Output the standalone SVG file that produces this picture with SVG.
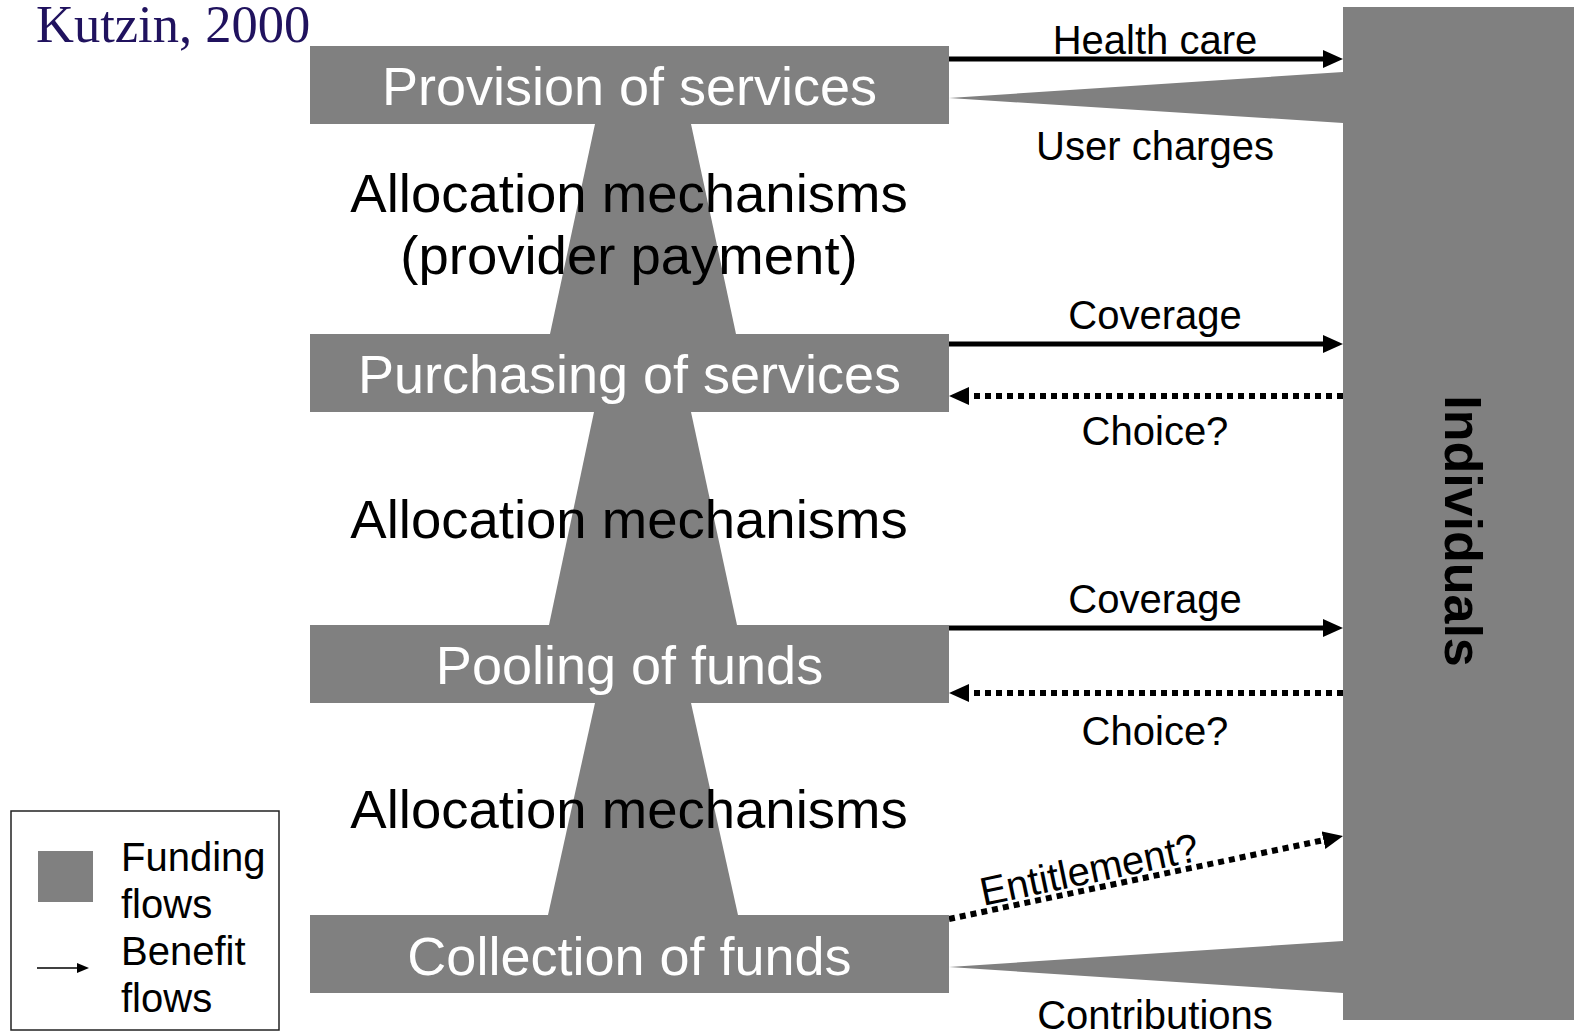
<svg xmlns="http://www.w3.org/2000/svg" width="1574" height="1032" viewBox="0 0 1574 1032">
<style>
.fill{fill:#808080}
.box-label{font-family:"Liberation Sans",Arial,sans-serif;font-size:54px;fill:#ffffff;text-anchor:middle}
.mech{font-family:"Liberation Sans",Arial,sans-serif;font-size:54.5px;fill:#000;text-anchor:middle}
.lbl{font-family:"Liberation Sans",Arial,sans-serif;font-size:40px;fill:#000;text-anchor:middle}
.leg{font-family:"Liberation Sans",Arial,sans-serif;font-size:40px;fill:#000}
.solid{stroke:#000;stroke-width:5;fill:none;marker-end:url(#head)}
.dotted{stroke:#000;stroke-width:6;fill:none;stroke-dasharray:6 5;marker-end:url(#head)}
</style>
<defs>
<marker id="head" markerUnits="userSpaceOnUse" markerWidth="20" markerHeight="18" refX="7" refY="9" orient="auto">
<path d="M0,0 L20,9 L0,18 z" fill="#000"/>
</marker>
<marker id="smallhead" markerUnits="userSpaceOnUse" markerWidth="12" markerHeight="10" refX="4" refY="5" orient="auto">
<path d="M0,0 L12,5 L0,10 z" fill="#000"/>
</marker>
</defs>
<rect width="1574" height="1032" fill="#fff"/>
<text x="36" y="42" font-family="'Liberation Serif','Times New Roman',serif" font-size="52.5" fill="#20125E">Kutzin, 2000</text>

<g id="connectors">
<g id="funding-flows" class="fill">
<polygon points="595,124 691,124 736,334 550,334"/>
<polygon points="594,412 691,412 737,625 549,625"/>
<polygon points="595,703 691,703 738,915 548,915"/>
<polygon points="949,98 1343,72 1343,123"/>
<polygon points="949,967 1343,941 1343,993"/>
</g>
<g id="benefit-flows">
<line class="solid" x1="949" y1="59" x2="1330" y2="59"/>
<line class="solid" x1="949" y1="344" x2="1330" y2="344"/>
<line class="dotted" x1="1343" y1="396" x2="962" y2="396"/>
<line class="solid" x1="949" y1="628" x2="1330" y2="628"/>
<line class="dotted" x1="1343" y1="693" x2="962" y2="693"/>
<line class="dotted" x1="949" y1="919" x2="1330.3" y2="838.7"/>
</g>
<g id="flow-labels">
<text class="lbl" x="1155" y="54">Health care</text>
<text class="lbl" x="1155" y="160">User charges</text>
<text class="lbl" x="1155" y="329">Coverage</text>
<text class="lbl" x="1155" y="445">Choice?</text>
<text class="lbl" x="1155" y="613">Coverage</text>
<text class="lbl" x="1155" y="745">Choice?</text>
<text class="lbl" x="1092" y="883" transform="rotate(-11.9 1092 883)">Entitlement?</text>
<text class="lbl" x="1155" y="1029">Contributions</text>
</g>
</g>

<g id="mechanisms">
<text class="mech" x="629" y="212">Allocation mechanisms</text>
<text class="mech" x="629" y="274">(provider payment)</text>
<text class="mech" x="629" y="538">Allocation mechanisms</text>
<text class="mech" x="629" y="828">Allocation mechanisms</text>
</g>

<g id="provision">
<rect class="fill" x="310" y="46" width="639" height="78"/>
<text class="box-label" x="629.5" y="105">Provision of services</text>
</g>
<g id="purchasing">
<rect class="fill" x="310" y="334" width="639" height="78"/>
<text class="box-label" x="629.5" y="393">Purchasing of services</text>
</g>
<g id="pooling">
<rect class="fill" x="310" y="625" width="639" height="78"/>
<text class="box-label" x="629.5" y="684">Pooling of funds</text>
</g>
<g id="collection">
<rect class="fill" x="310" y="915" width="639" height="78"/>
<text class="box-label" x="629.5" y="975">Collection of funds</text>
</g>
<g id="individuals">
<rect class="fill" x="1343" y="7" width="231" height="1013"/>
<text x="1445" y="531" transform="rotate(90 1445 531)" font-family="'Liberation Sans',Arial,sans-serif" font-size="52" font-weight="bold" text-anchor="middle" fill="#000">Individuals</text>
</g>
<g id="legend">
<rect x="11" y="811" width="268" height="219" fill="#fff" stroke="#222" stroke-width="1.5"/>
<rect class="fill" x="38" y="851" width="55" height="51"/>
<line x1="37" y1="968" x2="81" y2="968" stroke="#000" stroke-width="1.5" marker-end="url(#smallhead)"/>
<text class="leg" x="121" y="871">Funding</text>
<text class="leg" x="121" y="918">flows</text>
<text class="leg" x="121" y="965">Benefit</text>
<text class="leg" x="121" y="1012">flows</text>
</g>
</svg>
